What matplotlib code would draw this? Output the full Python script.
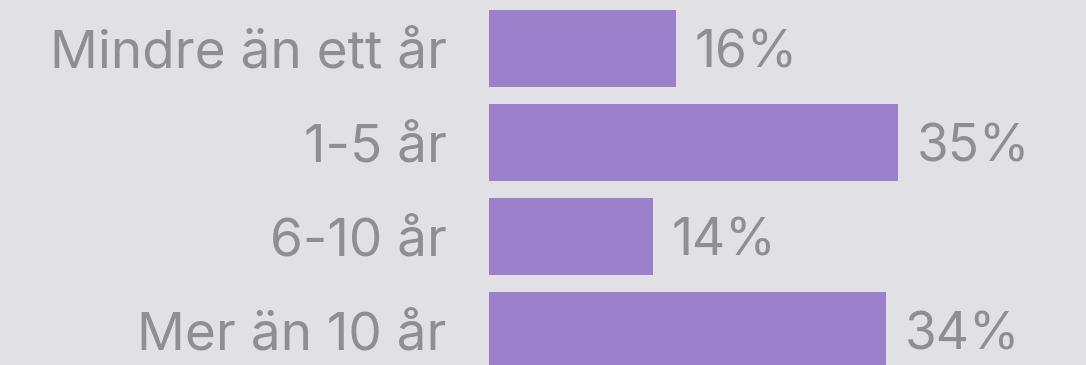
import matplotlib
matplotlib.use("Agg")
import matplotlib.pyplot as plt

categories = ["Mindre än ett år", "1-5 år", "6-10 år", "Mer än 10 år"]
shares = [16, 35, 14, 34]
value_labels = ["16%", "35%", "14%", "34%"]

BG = "#e1e0e5"
BAR = "#9b80cc"
TEXT = "#8e8e93"

W, H, DPI = 1086, 365, 100
PX_PER_PCT = 11.68   # horizontal scale, pixels per percent
ORIGIN = 489         # x pixel of bar base
ROW = 94             # row pitch in pixels
FIRST = 48.5         # y pixel of first bar centre

fig = plt.figure(figsize=(W / DPI, H / DPI), dpi=DPI, facecolor=BG)
ax = fig.add_axes([0, 0, 1, 1], facecolor=BG)

ypos = list(range(len(categories)))
ax.barh(ypos, shares, height=77 / ROW, color=BAR, linewidth=0)

font = dict(family=["Inter", "DejaVu Sans"], color=TEXT)
for i, (cat, v, lab) in enumerate(zip(categories, shares, value_labels)):
    base = i + 19.4 / ROW
    ax.text(-42 / PX_PER_PCT, base, cat, ha="right", va="baseline",
            fontsize=38.2, **font)
    ax.text(v + 19 / PX_PER_PCT, base, lab, ha="left", va="baseline",
            fontsize=37, **font)

ax.set_xlim(-ORIGIN / PX_PER_PCT, (W - ORIGIN) / PX_PER_PCT)
ax.set_ylim((H - FIRST) / ROW, -FIRST / ROW)
ax.axis("off")

fig.savefig("out.png", dpi=DPI, facecolor=BG)
